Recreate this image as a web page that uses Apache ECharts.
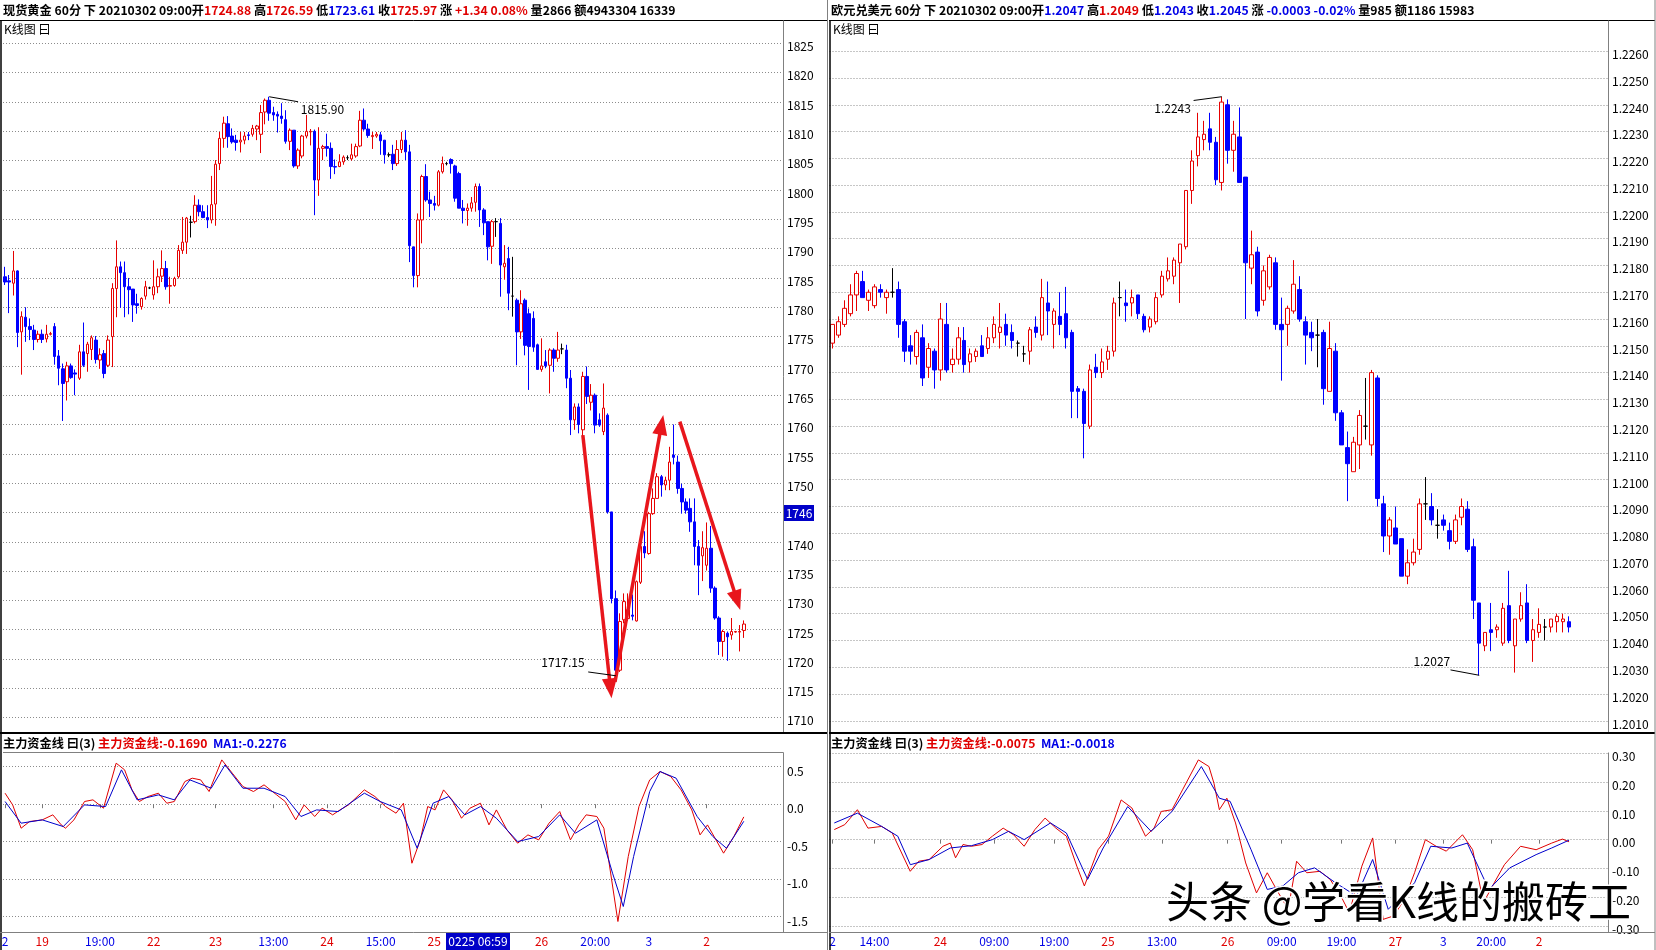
<!DOCTYPE html>
<html><head><meta charset="utf-8">
<script src="https://cdn.jsdelivr.net/npm/echarts/dist/echarts.min.js"></script>
<style>html,body{margin:0;padding:0;background:#fff}#c{width:1656px;height:950px}</style>
</head><body><div id="c"></div><script>
// ---------- DATA: 现货黄金 60分 (open, close, low, high) ----------
const goldK = [
[1785.2,1784.3,1783.8,1786.9],[1784.5,1784.3,1779.0,1785.5],[1784.1,1786.2,1782.0,1789.6],[1786.2,1775.7,1773.2,1786.3],[1775.8,1778.4,1768.5,1779.3],
[1778.3,1776.7,1774.1,1780.0],[1776.7,1776.2,1774.4,1778.1],[1776.1,1774.5,1772.7,1777.0],[1774.5,1775.4,1774.0,1776.0],[1775.4,1774.5,1773.9,1776.2],
[1774.6,1775.4,1774.0,1777.0],[1775.4,1775.5,1775.2,1775.8],[1776.7,1771.6,1770.2,1777.3],[1771.7,1769.6,1766.7,1772.7],[1769.5,1767.0,1760.6,1770.4],
[1767.3,1770.0,1764.1,1770.7],[1770.0,1768.0,1767.8,1770.4],[1768.8,1768.6,1765.0,1769.4],[1767.9,1772.4,1767.6,1773.6],[1772.4,1770.1,1769.8,1777.4],
[1772.1,1773.7,1769.0,1774.1],[1772.8,1774.8,1771.0,1775.2],[1774.4,1771.1,1770.4,1775.1],[1771.0,1771.9,1769.5,1773.0],[1772.1,1768.7,1767.9,1772.7],
[1770.1,1774.4,1769.8,1775.2],[1775.0,1783.2,1769.8,1784.1],[1783.2,1786.9,1778.3,1791.4],[1786.9,1785.9,1779.9,1787.8],[1785.9,1783.5,1778.3,1787.8],
[1783.5,1783.0,1778.8,1785.0],[1783.1,1780.4,1777.5,1783.1],[1780.6,1780.3,1778.9,1782.3],[1780.1,1781.5,1779.6,1781.7],[1781.9,1783.5,1781.3,1784.5],
[1783.3,1783.3,1783.1,1783.5],[1782.1,1783.5,1781.3,1788.0],[1783.5,1785.2,1782.4,1786.6],[1785.3,1786.6,1784.3,1789.7],[1786.6,1783.5,1783.0,1787.9],
[1783.6,1783.7,1780.6,1785.2],[1783.7,1784.9,1783.5,1785.2],[1785.2,1789.7,1784.9,1790.6],[1789.7,1791.1,1789.1,1795.4],[1791.1,1795.2,1789.1,1795.4],
[1794.5,1794.5,1791.9,1795.6],[1794.6,1797.4,1794.3,1799.1],[1797.4,1796.3,1795.5,1798.4],[1796.3,1795.3,1795.2,1797.4],[1795.3,1794.9,1793.5,1797.4],
[1794.9,1797.5,1794.3,1802.4],[1797.6,1804.4,1793.9,1805.1],[1804.5,1808.8,1803.4,1809.9],[1808.8,1811.4,1807.2,1812.5],[1811.3,1809.1,1807.2,1812.6],
[1809.2,1808.2,1807.9,1810.5],[1808.5,1808.1,1806.7,1809.4],[1808.2,1808.5,1806.4,1809.9],[1808.5,1809.2,1807.8,1809.9],[1809.4,1809.3,1808.5,1809.9],
[1809.5,1810.5,1809.1,1811.1],[1810.4,1810.9,1808.5,1811.1],[1809.5,1813.2,1806.3,1814.5],[1813.3,1815.3,1811.2,1815.6],[1815.3,1813.1,1811.8,1815.9],
[1813.2,1812.8,1811.8,1814.2],[1812.9,1812.6,1809.8,1813.4],[1812.6,1812.2,1811.3,1814.8],[1812.0,1808.3,1807.9,1813.6],[1808.3,1810.2,1806.8,1810.5],
[1810.2,1804.1,1803.8,1810.2],[1804.1,1806.8,1803.6,1807.1],[1805.8,1809.2,1805.4,1809.4],[1809.2,1810.0,1808.8,1812.8],[1809.9,1810.0,1807.6,1810.4],
[1810.0,1801.7,1795.7,1810.3],[1801.7,1807.1,1799.0,1810.7],[1807.1,1807.4,1805.1,1807.7],[1807.4,1807.1,1805.7,1809.6],[1807.1,1804.0,1801.9,1808.1],
[1804.0,1803.9,1802.7,1805.2],[1804.0,1804.8,1803.9,1806.1],[1804.8,1805.6,1804.3,1805.9],[1805.5,1805.5,1805.1,1805.9],[1805.3,1806.0,1805.0,1807.9],
[1805.8,1807.4,1805.5,1807.9],[1807.5,1811.9,1807.3,1813.5],[1811.9,1810.4,1810.1,1813.9],[1810.4,1809.3,1808.9,1811.3],[1809.1,1809.3,1807.0,1809.9],
[1809.2,1809.5,1808.9,1809.9],[1809.4,1808.4,1806.0,1809.9],[1808.5,1806.0,1804.5,1808.5],[1806.0,1806.0,1805.6,1806.4],[1806.1,1804.5,1803.4,1807.7],
[1804.5,1806.9,1804.1,1808.5],[1806.9,1808.5,1806.3,1809.9],[1808.5,1806.5,1805.1,1810.2],[1806.5,1790.5,1787.7,1807.7],[1790.3,1785.4,1783.4,1790.3],
[1785.4,1794.9,1783.4,1796.0],[1794.9,1802.3,1790.9,1802.6],[1802.3,1798.3,1798.0,1804.4],[1798.3,1797.7,1795.4,1799.7],[1797.7,1797.4,1796.5,1799.0],
[1797.4,1803.1,1797.2,1803.4],[1803.1,1804.5,1802.8,1805.7],[1804.5,1804.5,1804.2,1804.8],[1805.2,1804.5,1802.8,1805.4],[1804.1,1798.6,1798.0,1804.3],
[1802.8,1796.9,1796.9,1803.1],[1796.9,1796.5,1794.3,1798.3],[1796.5,1796.9,1793.9,1797.7],[1796.9,1797.8,1796.3,1798.8],[1797.9,1800.6,1796.3,1801.1],
[1800.6,1796.6,1793.7,1801.1],[1796.6,1794.4,1792.3,1796.9],[1794.6,1790.3,1788.0,1794.6],[1790.4,1794.6,1787.4,1794.9],[1794.6,1794.6,1792.0,1795.2],
[1794.3,1787.2,1781.8,1795.2],[1786.9,1787.5,1784.7,1790.6],[1788.3,1782.4,1779.5,1790.3],[1781.9,1781.9,1778.4,1788.6],[1781.2,1775.8,1770.1,1781.5],
[1775.8,1780.6,1774.6,1782.9],[1781.2,1773.5,1771.8,1781.5],[1778.9,1773.3,1765.9,1779.8],[1778.1,1773.2,1772.4,1779.3],[1773.6,1769.4,1769.4,1773.8],
[1769.4,1770.0,1769.0,1774.7],[1770.7,1770.0,1769.6,1772.7],[1770.1,1772.7,1765.3,1773.0],[1772.7,1771.3,1769.0,1773.0],[1771.3,1772.7,1770.7,1775.8],
[1772.9,1772.9,1772.0,1773.8],[1772.7,1767.9,1766.2,1773.6],[1767.9,1760.8,1758.2,1769.3],[1760.8,1763.0,1759.1,1763.6],[1763.0,1760.0,1758.5,1763.6],
[1759.1,1768.2,1757.0,1769.0],[1768.2,1764.8,1763.5,1769.9],[1763.8,1765.0,1762.4,1766.9],[1765.0,1759.9,1758.5,1765.3],[1760.8,1759.9,1759.6,1761.9],
[1758.8,1762.8,1758.2,1767.0],[1761.6,1745.1,1744.8,1761.9],[1745.1,1730.3,1729.5,1745.1],[1730.3,1718.1,1717.15,1731.7],[1718.1,1726.4,1717.8,1727.8],
[1726.7,1729.8,1726.1,1731.2],[1726.9,1728.4,1726.5,1731.2],[1727.5,1727.3,1726.6,1731.0],[1726.5,1733.2,1726.4,1733.4],[1733.1,1739.2,1732.8,1740.6],
[1739.2,1738.1,1737.2,1741.8],[1738.0,1744.8,1737.8,1745.1],[1744.8,1747.4,1744.6,1749.1],[1747.4,1751.1,1747.4,1751.7],[1751.1,1749.7,1747.7,1751.4],
[1749.7,1750.5,1748.8,1751.1],[1750.5,1753.6,1748.8,1756.2],[1754.8,1754.4,1753.2,1760.0],[1753.6,1749.1,1748.2,1754.7],[1749.1,1746.8,1744.8,1749.9],
[1746.8,1745.4,1744.8,1747.4],[1745.7,1743.4,1741.7,1747.4],[1743.4,1739.2,1736.0,1747.4],[1739.2,1736.0,1730.9,1740.3],[1737.6,1739.0,1733.3,1741.8],
[1736.0,1738.9,1735.1,1743.3],[1738.9,1732.1,1731.3,1742.7],[1732.1,1727.0,1726.7,1732.4],[1727.0,1723.0,1720.7,1727.3],[1723.0,1724.7,1720.4,1725.0],
[1724.4,1723.8,1719.7,1724.7],[1724.1,1724.7,1723.3,1727.0],[1724.6,1724.7,1724.5,1724.8],[1724.6,1724.7,1721.3,1725.8],[1724.88,1725.97,1723.61,1726.59]
];
// 主力资金线 (red) and MA1 (blue): [bar index, value]
const goldMain = [
[0,0.147],[1.84,-0.009],[3.89,-0.32],[5.94,-0.231],[9.01,-0.209],[11.57,-0.142],[13.62,-0.276],[14.64,-0.32],[16.69,-0.209],[19.25,0.036],[21.3,0.058],[23.85,-0.053],[26.92,0.547],[28.97,0.458],[30.76,0.191],[32.55,0.036],[34.6,0.102],[37.16,0.147],[39.2,0.013],[41.0,0.036],[43.56,0.302],[45.35,0.347],[47.4,0.324],[49.44,0.169],[52.51,0.591],[55.07,0.413],[57.63,0.236],[60.19,0.169],[62.75,0.258],[65.82,0.124],[67.87,0.036],[70.43,-0.209],[72.47,-0.009],[75.03,-0.164],[76.82,-0.053],[79.38,-0.142],[81.17,-0.076],[83.22,-0.009],[87.06,0.191],[89.62,0.102],[92.18,-0.031],[94.74,-0.12],[96.53,0.013],[98.58,-0.787],[100.62,-0.476],[102.41,-0.031],[104.2,-0.076],[106.25,0.191],[108.3,0.058],[110.6,-0.187],[112.65,-0.053],[115.2,0.013],[117.25,-0.276],[119.05,-0.076],[121.6,-0.342],[124.2,-0.52],[126.7,-0.409],[129.3,-0.476],[131.8,-0.253],[134.4,-0.098],[137.0,-0.476],[139.0,-0.276],[140.8,-0.142],[143.4,-0.164],[145.1,-0.32],[148.5,-1.564],[151.0,-0.698],[153.6,-0.031],[156.2,0.324],[158.7,0.436],[161.3,0.369],[163.8,0.191],[166.4,-0.076],[168.4,-0.409],[170.2,-0.276],[174.1,-0.653],[176.6,-0.431],[179,-0.169]
];
const goldMA1 = [
[0,0.036],[3.89,-0.253],[9.01,-0.209],[14.1,-0.298],[19.25,-0.009],[24.36,-0.031],[28.2,0.458],[32.0,0.058],[37.16,0.124],[41.0,0.058],[44.8,0.324],[49.95,0.213],[53.3,0.524],[57.63,0.213],[62.75,0.213],[67.87,0.102],[71.7,-0.164],[75.5,-0.076],[80.7,-0.098],[87.06,0.147],[90.9,0.036],[96.0,-0.076],[99.85,-0.587],[103.7,0.013],[107.5,0.102],[111.4,-0.142],[115.2,-0.031],[119.05,-0.187],[124.2,-0.498],[129.3,-0.431],[134.4,-0.142],[138.2,-0.387],[143.4,-0.209],[147.2,-0.92],[149.8,-1.364],[152.3,-0.698],[156.2,0.169],[158.7,0.436],[162.6,0.347],[167.7,-0.164],[171.5,-0.431],[174.8,-0.587],[179,-0.228]
];
const goldTickIdx  = [0, 9, 23, 36, 51, 65, 78, 91, 104, 130, 143, 156, 170];
const goldTickText = ['2','19','19:00','22','23','13:00','24','15:00','25','26','20:00','3','2'];
const goldTickKind = ['month','day','time','day','day','time','day','time','day','day','time','month','day'];
const goldChange = ['+1.34', '0.08%'];
const goldVolume = ['2866', '4943304 16339'];
const goldMainLast = -0.1690, goldMA1Last = -0.2276;
const goldCursorPrice = 1746, goldCursorTime = '0225 06:59';

// ---------- DATA: 欧元兑美元 60分 ----------
const eurK = [
[1.2151,1.2158,1.2149,1.2158],[1.2154,1.2159,1.2153,1.2161],[1.2158,1.2164,1.2157,1.2167],[1.2162,1.2169,1.2161,1.2173],[1.2169,1.2177,1.2163,1.2178],
[1.2174,1.2168,1.2168,1.2178],[1.2167,1.2170,1.2163,1.2171],[1.2165,1.2172,1.2164,1.2173],[1.2171,1.2170,1.2168,1.2173],[1.2168,1.2170,1.2162,1.2171],
[1.2170,1.2170,1.2168,1.2179],[1.2171,1.2158,1.2153,1.2174],[1.2159,1.2148,1.2144,1.2160],[1.2150,1.2148,1.2143,1.2154],[1.2146,1.2155,1.2143,1.2156],
[1.2153,1.2138,1.2135,1.2158],[1.2142,1.2149,1.2138,1.2151],[1.2148,1.2141,1.2134,1.2149],[1.2141,1.2160,1.2137,1.2166],[1.2158,1.2141,1.2140,1.2166],
[1.2143,1.2145,1.2140,1.2149],[1.2145,1.2153,1.2143,1.2157],[1.2152,1.2143,1.2140,1.2157],[1.2144,1.2147,1.2140,1.2149],[1.2146,1.2148,1.2144,1.2149],
[1.2150,1.2146,1.2146,1.2154],[1.2149,1.2153,1.2147,1.2157],[1.2153,1.2158,1.2151,1.2161],[1.2155,1.2157,1.2149,1.2166],[1.2158,1.2154,1.2150,1.2162],
[1.2155,1.2152,1.2149,1.2158],[1.2151,1.2151,1.2146,1.2152],[1.2147,1.2147,1.2144,1.2150],[1.2148,1.2156,1.2143,1.2157],[1.2157,1.2155,1.2153,1.2161],
[1.2154,1.2168,1.2152,1.2175],[1.2166,1.2163,1.2154,1.2174],[1.2158,1.2163,1.2149,1.2164],[1.2161,1.2158,1.2154,1.2170],[1.2162,1.2153,1.2149,1.2172],
[1.2155,1.2133,1.2123,1.2156],[1.2134,1.2133,1.2123,1.2135],[1.2133,1.2121,1.2108,1.2134],[1.2120,1.2141,1.2119,1.2143],[1.2142,1.2140,1.2138,1.2147],
[1.2140,1.2144,1.2138,1.2149],[1.2145,1.2148,1.2141,1.2150],[1.2148,1.2166,1.2146,1.2168],[1.2168,1.2168,1.2161,1.2174],[1.2166,1.2165,1.2159,1.2171],
[1.2166,1.2168,1.2161,1.2171],[1.2169,1.2162,1.2160,1.2169],[1.2161,1.2156,1.2155,1.2162],[1.2157,1.2160,1.2155,1.2161],[1.2159,1.2168,1.2158,1.2170],
[1.2169,1.2176,1.2168,1.2178],[1.2175,1.2178,1.2174,1.2183],[1.2176,1.2182,1.2173,1.2183],[1.2181,1.2188,1.2166,1.2188],[1.2187,1.2208,1.2186,1.2208],
[1.2208,1.2219,1.2203,1.2223],[1.2221,1.2228,1.2217,1.2237],[1.2227,1.2229,1.2223,1.2234],[1.2231,1.2226,1.2223,1.2237],[1.2226,1.2212,1.2210,1.2228],
[1.2211,1.2241,1.2208,1.2243],[1.2240,1.2223,1.2218,1.2242],[1.2223,1.2229,1.2215,1.2234],[1.2228,1.2211,1.2211,1.2239],[1.2213,1.2181,1.2160,1.2213],
[1.2179,1.2184,1.2173,1.2193],[1.2185,1.2163,1.2161,1.2187],[1.2167,1.2178,1.2165,1.2180],[1.2172,1.2183,1.2171,1.2184],[1.2181,1.2158,1.2156,1.2183],
[1.2158,1.2156,1.2137,1.2168],[1.2158,1.2164,1.2150,1.2165],[1.2163,1.2173,1.2162,1.2182],[1.2171,1.2160,1.2159,1.2176],[1.2159,1.2154,1.2143,1.2161],
[1.2155,1.2153,1.2148,1.2159],[1.2154,1.2154,1.2142,1.2160],[1.2155,1.2134,1.2128,1.2156],[1.2133,1.2149,1.2133,1.2159],[1.2148,1.2125,1.2122,1.2151],
[1.2125,1.2113,1.2113,1.2126],[1.2112,1.2106,1.2092,1.2118],[1.2103,1.2114,1.2103,1.2116],[1.2113,1.2124,1.2104,1.2126],[1.2120,1.2120,1.2115,1.2138],
[1.2113,1.2140,1.2109,1.2141],[1.2138,1.2093,1.2090,1.2139],[1.2091,1.2079,1.2073,1.2094],[1.2079,1.2085,1.2072,1.2086],[1.2082,1.2076,1.2076,1.2090],
[1.2078,1.2064,1.2064,1.2078],[1.2064,1.2069,1.2061,1.2074],[1.2069,1.2073,1.2068,1.2078],[1.2074,1.2091,1.2072,1.2093],[1.2091,1.2091,1.2085,1.2101],
[1.2090,1.2085,1.2083,1.2095],[1.2083,1.2083,1.2078,1.2089],[1.2085,1.2083,1.2081,1.2087],[1.2081,1.2077,1.2074,1.2084],[1.2077,1.2085,1.2076,1.2087],
[1.2086,1.2090,1.2083,1.2093],[1.2089,1.2074,1.2073,1.2092],[1.2075,1.2055,1.2048,1.2078],[1.2054,1.2039,1.2027,1.2054],[1.2038,1.2043,1.2036,1.2043],
[1.2044,1.2043,1.2036,1.2054],[1.2044,1.2045,1.2041,1.2046],[1.2039,1.2052,1.2038,1.2054],[1.2053,1.2040,1.2039,1.2066],[1.2038,1.2048,1.2028,1.2048],
[1.2048,1.2053,1.2047,1.2058],[1.2054,1.2040,1.2039,1.2061],[1.2040,1.2044,1.2032,1.2048],[1.2043,1.2046,1.2041,1.2052],[1.2045,1.2045,1.2040,1.2048],
[1.2045,1.2048,1.2043,1.2048],[1.2047,1.2049,1.2043,1.2050],[1.2047,1.2048,1.2043,1.2050],[1.2047,1.2045,1.2043,1.2049]
];
const eurMain = [
[0.3,0.035],[2.04,0.052],[4.16,0.104],[5.92,0.04],[8.21,0.046],[9.98,0.023],[12.98,-0.11],[14.4,-0.075],[16.15,-0.069],[18.44,-0.023],[19.67,-0.012],[20.55,-0.063],[21.79,-0.017],[23.2,-0.023],[24.96,-0.017],[26.7,0.012],[28.5,0.04],[30.25,0.017],[32.0,-0.023],[33.8,0.035],[35.5,0.075],[37.3,0.04],[39.06,0.012],[40.8,-0.092],[42.06,-0.161],[44.35,-0.035],[46.1,0.012],[48.2,0.138],[50.0,0.11],[52.27,0.012],[53.7,0.04],[54.9,0.098],[56.7,0.104],[58.45,0.173],[61.1,0.277],[62.86,0.254],[63.7,0.196],[64.6,0.104],[65.85,0.144],[67.3,0.058],[69.0,-0.081],[70.8,-0.185],[72.6,-0.115],[74.3,-0.179],[76.1,-0.242],[77.5,-0.075],[79.2,-0.115],[81.4,-0.11],[83.1,-0.138],[84.9,-0.196],[86.3,-0.254],[88.4,-0.092],[90.2,0.006],[91.95,-0.277],[93.7,-0.265],[95.5,-0.208],[97.2,-0.115],[99.0,0.0],[100.8,-0.023],[102.5,-0.04],[105.2,0.017],[106.9,-0.035],[108.7,-0.219],[110.5,-0.15],[112.2,-0.087],[114.9,-0.023],[117.5,-0.035],[120.1,-0.012],[121.9,0.002],[123,-0.0075]
];
const eurMA1 = [
[0.3,0.058],[4.16,0.092],[8.21,0.046],[10.9,0.012],[13.0,-0.087],[16.15,-0.069],[19.67,-0.029],[23.2,-0.021],[26.7,0.0],[29.4,0.029],[32.0,0.0],[36.4,0.058],[39.06,0.023],[42.6,-0.138],[45.2,-0.029],[49.3,0.115],[53.2,0.029],[56.7,0.098],[61.6,0.254],[64.6,0.144],[66.4,0.133],[69.9,-0.035],[72.6,-0.173],[75.2,-0.161],[77.8,-0.115],[80.5,-0.098],[84.0,-0.15],[87.5,-0.196],[90.2,-0.069],[92.8,-0.242],[97.2,-0.15],[99.9,-0.023],[103.4,-0.029],[106.0,-0.012],[109.6,-0.173],[113.1,-0.098],[117.5,-0.052],[120.1,-0.029],[123,-0.0018]
];
const eurTickIdx  = [0, 7, 18, 27, 37, 46, 55, 66, 75, 85, 94, 102, 110, 118];
const eurTickText = ['2','14:00','24','09:00','19:00','25','13:00','26','09:00','19:00','27','3','20:00','2'];
const eurTickKind = ['month','time','day','time','time','day','time','day','time','time','day','month','time','day'];
const eurChange = ['-0.0003', '-0.02%'];
const eurVolume = ['985', '1186 15983'];
const eurMainLast = -0.0075, eurMA1Last = -0.0018;

// ---------- STYLE / LAYOUT ----------
const FONT = '"Noto Sans CJK SC","Noto Sans",sans-serif';
const RED = '#e00000', BLUE = '#0000e6', UPC = '#e60000', DNC = '#0000ff', GRIDC = '#8c8c8c';
const NL = 189, NR = 130;
const slotsL = Array.from({length: NL}, (_, i) => String(i));
const slotsR = Array.from({length: NR}, (_, i) => String(i));
const kindColor = k => k === 'day' ? RED : BLUE;

const G = {
  lm: {left: 3, top: 43.4, width: 780, height: 674.3},
  li: {left: 3, top: 766.7, width: 780, height: 150},
  rm: {left: 829.5, top: 51.2, width: 778.5, height: 669.6},
  ri: {left: 829.5, top: 753.3, width: 778.5, height: 172.7}
};
function grid(g){ return Object.assign({containLabel:false, outerBoundsMode:'none', show:false}, g); }
function catAxis(gi, slots, show, tickIdx, tickText, tickKind, offset){
  const o = {type:'category', gridIndex: gi, data: slots, boundaryGap: true, show: show,
    axisLine:{show:false}, splitLine:{show:false}};
  if (show){
    const has = i => tickIdx.indexOf(i) >= 0;
    o.offset = offset;
    o.axisTick = {show:true, alignWithLabel:true, interval:(i)=>has(i), length:4, lineStyle:{color:'#777'}};
    o.axisLabel = {show:true, interval:(i)=>has(i), margin:3, fontSize:12, fontFamily:FONT,
      formatter:(v)=>{const k=tickIdx.indexOf(+v); return k>=0?tickText[k]:'';},
      color:(v)=>{const k=tickIdx.indexOf(+v); return k>=0?kindColor(tickKind[k]):'#000';}};
  }
  return o;
}
function valX(gi, n){ return {type:'value', gridIndex: gi, min:-0.5, max:n-0.5, show:false}; }
// labels sit a few px below their grid line: top-aligned with a short line box
function yAx(gi, min, max, interval, dec, lh){
  return {type:'value', gridIndex: gi, position:'right', min, max, interval, scale:true,
    axisLine:{show:false}, axisTick:{show:false},
    splitLine:{show:true, lineStyle:{color:GRIDC, width:1, type:[1,2]}},
    axisLabel:{show:true, margin:4, fontSize:12, fontFamily:FONT, color:'#000', verticalAlign:'top', lineHeight:lh,
      formatter:(v)=>v.toFixed(dec)}};
}
function candle(xi, yi, data, bw){
  return {type:'candlestick', xAxisIndex: xi, yAxisIndex: yi, data, barWidth: bw, animation:false,
    itemStyle:{color:'#ffffff', color0:DNC, borderColor:UPC, borderColor0:DNC, borderColorDoji:'#000', borderWidth:1}};
}
function indLine(xi, yi, data, color){
  return {type:'line', xAxisIndex: xi, yAxisIndex: yi, data, symbol:'none', clip:false, animation:false,
    lineStyle:{color, width:1}};
}
function extremes(K){
  let hi=-Infinity, lo=Infinity, ih=0, il=0;
  K.forEach((k,i)=>{ if(k[3]>hi){hi=k[3];ih=i;} if(k[2]<lo){lo=k[2];il=i;} });
  return {hi, lo, ih, il};
}
const eg = extremes(goldK), ee = extremes(eurK);

function note(xi, yi, lines, points, lineStyle, sym){
  return {type:'line', xAxisIndex: xi, yAxisIndex: yi, data: [], silent:true, animation:false,
    markLine: {silent:true, animation:false, symbol: sym, symbolSize: [15, 20], label:{show:false},
      lineStyle: lineStyle, emphasis:{disabled:true}, data: lines},
    markPoint: points ? {silent:true, animation:false, symbol:'circle', symbolSize:1,
      itemStyle:{color:'rgba(0,0,0,0)'}, data: points} : undefined};
}
function txtPt(coord, text, pos){
  return {coord, label:{show:true, formatter:text, position:pos, distance:1, color:'#000', fontSize:12, fontFamily:FONT}};
}

const richBase = {fontSize:12.2, fontFamily:FONT, lineHeight:16};
const rich = {k:Object.assign({color:'#000'}, richBase), r:Object.assign({color:RED}, richBase), b:Object.assign({color:BLUE}, richBase)};
const gl = goldK[goldK.length-1], el = eurK[eurK.length-1];
const goldHeader = `{k|现货黄金 60分 下 20210302 09:00开}{r|${gl[0].toFixed(2)}}{k| 高}{r|${gl[3].toFixed(2)}}{k| 低}{b|${gl[2].toFixed(2)}}{k| 收}{r|${gl[1].toFixed(2)}}{k| 涨 }{r|${goldChange[0]} ${goldChange[1]}}{k| 量${goldVolume[0]} 额${goldVolume[1]}}`;
const eurHeader = `{k|欧元兑美元 60分 下 20210302 09:00开}{b|${el[0].toFixed(4)}}{k| 高}{r|${el[3].toFixed(4)}}{k| 低}{b|${el[2].toFixed(4)}}{k| 收}{b|${el[1].toFixed(4)}}{k| 涨 }{b|${eurChange[0]} ${eurChange[1]}}{k| 量${eurVolume[0]} 额${eurVolume[1]}}`;
const indHeader = (a, b) => `{k|主力资金线 曰(3) }{r|主力资金线:${a.toFixed(4)}}{k|  }{b|MA1:${b.toFixed(4)}}`;

function L(x1,y1,x2,y2,c,w){ return {type:'line', silent:true, z:50, shape:{x1,y1,x2,y2}, style:{stroke:c, lineWidth:w||1}}; }
function T(x,y,text,size){ return {type:'text', silent:true, z:50, x, y, style:{text, x:0, y:0, fill:'#000', font:(size||12)+'px '+FONT, verticalAlign:'middle', textVerticalAlign:'middle'}}; }

const frames = [];
[[0, 783.5, 827.5], [829, 1608.5, 1655]].forEach(([x0, ax, xr])=>{
  frames.push(L(x0, 20.5, xr, 20.5, '#000', 1));
  frames.push(L(x0+1, 20.5, x0+1, 950, '#000', 1.5));
  frames.push(L(ax, 20.5, ax, 733, '#808080', 1));
  frames.push(L(x0, 733, xr, 733, '#000', 2));
  frames.push(L(ax, 752.5, ax, 932.5, '#808080', 1));
  frames.push(L(x0, 932.5, xr, 932.5, '#808080', 1));
  frames.push(L(xr, 0, xr, 950, '#808080', 1));
  frames.push(T(x0+4, 29, 'K线图 曰'));
});
frames.push(L(3, 752.5, 783.5, 752.5, '#808080', 1));
frames.push({type:'rect', z:60, silent:true, shape:{x:784, y:505, width:30, height:16}, style:{fill:'#0000c8'}});
frames.push({type:'text', z:61, silent:true, x:799, y:513.5, style:{text:String(goldCursorPrice), fill:'#fff', font:'12px '+FONT, align:'center', textAlign:'center', verticalAlign:'middle', textVerticalAlign:'middle'}});
frames.push({type:'rect', z:60, silent:true, shape:{x:446, y:933, width:64, height:17}, style:{fill:'#0000c8'}});
frames.push({type:'text', z:61, silent:true, x:478, y:941.5, style:{text:goldCursorTime, fill:'#fff', font:'12px '+FONT, align:'center', textAlign:'center', verticalAlign:'middle', textVerticalAlign:'middle'}});
frames.push({type:'text', z:100, silent:true, x:1166, y:902, style:{text:'头条 @学看K线的搬砖工', fill:'#000', stroke:'#fff', lineWidth:3, strokeFirst:true, font:'43px '+FONT, verticalAlign:'middle', textVerticalAlign:'middle'}});

const arrowStyle = {color:'#e8161c', width:3.5, type:'solid', opacity:1};
const leadStyle = {color:'#000', width:1, type:'solid', opacity:1};
const p = 0.0001;

const option = {
  backgroundColor:'#fff', animation:false,
  title: [
    {left:3, top:2, padding:0, text: goldHeader, textStyle:{rich}},
    {left:831, top:2, padding:0, text: eurHeader, textStyle:{rich}},
    {left:3, top:735, padding:0, text: indHeader(goldMainLast, goldMA1Last), textStyle:{rich}},
    {left:831, top:735, padding:0, text: indHeader(eurMainLast, eurMA1Last), textStyle:{rich}}
  ],
  grid: [grid(G.lm), grid(G.li), grid(G.rm), grid(G.ri)],
  xAxis: [
    catAxis(0, slotsL, false), valX(0, NL),
    catAxis(1, slotsL, true, goldTickIdx, goldTickText, goldTickKind, 932.5 - (G.li.top + G.li.height)), valX(1, NL),
    catAxis(2, slotsR, false), valX(2, NR),
    catAxis(3, slotsR, true, eurTickIdx, eurTickText, eurTickKind, 932.5 - (G.ri.top + G.ri.height)), valX(3, NR)
  ],
  yAxis: [
    yAx(0, 1710, 1825, 5, 0, 6.4),
    yAx(1, -1.5, 0.5, 0.5, 1, 8.6),
    yAx(2, 1.2010, 1.2260, 0.001, 4, 6.4),
    yAx(3, -0.3, 0.3, 0.1, 2, 6.4)
  ],
  graphic: frames,
  series: [
    candle(0, 0, goldK, 3),
    indLine(3, 1, goldMain, RED),
    indLine(3, 1, goldMA1, '#0000cc'),
    candle(4, 2, eurK, 4),
    indLine(7, 3, eurMain, RED),
    indLine(7, 3, eurMA1, '#0000cc'),
    note(1, 0, [
      [{coord:[140.0, 1758.2]}, {coord:[146.7, 1715.0]}],
      [{coord:[147.8, 1716.1]}, {coord:[159.06, 1759.95]}],
      [{coord:[163.5, 1760.5]}, {coord:[177.4, 1730.0]}]
    ], null, arrowStyle, ['none','triangle']),
    note(1, 0, [
      [{coord:[eg.ih, eg.hi]}, {coord:[eg.ih+7, eg.hi-0.85]}],
      [{coord:[eg.il-6.7, eg.lo+0.65]}, {coord:[eg.il, eg.lo]}]
    ], [
      txtPt([eg.ih+7.3, eg.hi-2.1], eg.hi.toFixed(2), 'right'),
      txtPt([eg.il-7.2, eg.lo+2.25], eg.lo.toFixed(2), 'left')
    ], leadStyle, ['none','none']),
    note(5, 2, [
      [{coord:[ee.ih-4.7, ee.hi-1.4*p]}, {coord:[ee.ih, ee.hi]}],
      [{coord:[ee.il-4.8, ee.lo+2.0*p]}, {coord:[ee.il, ee.lo]}]
    ], [
      txtPt([ee.ih-4.9, ee.hi-4.5*p], ee.hi.toFixed(4), 'left'),
      txtPt([ee.il-4.6, ee.lo+5.1*p], ee.lo.toFixed(4), 'left')
    ], leadStyle, ['none','none'])
  ]
};
const chart = echarts.init(document.getElementById('c'), null, {renderer:'canvas'});
chart.setOption(option);
</script></body></html>
